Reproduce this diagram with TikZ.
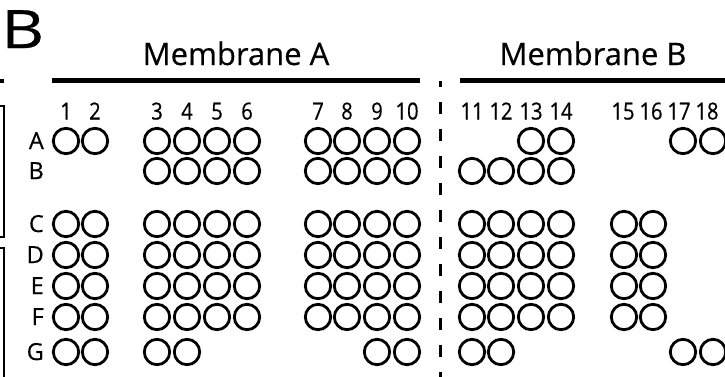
\documentclass[tikz,border=0pt]{standalone}
\usepackage{fontspec}
\setmainfont[FakeBold=0.5]{Open Sans}
\begin{document}
\begin{tikzpicture}[x=1pt,y=-1pt,
  ring/.style={circle, draw, line width=2.8pt, minimum size=25.4pt, inner sep=0pt},
  rowlab/.style={anchor=base east, inner sep=0pt, font=\fontsize{23.5}{28}\selectfont},
  collab/.style={anchor=base, inner sep=0pt, xscale=0.86, font=\fontsize{23.5}{28}\selectfont},
  title/.style={anchor=base, inner sep=0pt, font=\fontsize{31}{36}\selectfont},
  memline/.style={line width=4.5pt},
  bracket/.style={line width=2.2pt},
  divider/.style={line width=3pt, dash pattern=on 12pt off 15pt, dash phase=6pt}]
\useasboundingbox (0,0) rectangle (725,376);
\foreach \c/\x in {1/66,2/95,3/157,4/187,5/217,6/247,7/318,8/347,9/377,10/407,11/472,12/501,13/531,14/561,15/624,16/653,17/683,18/713}
  {\expandafter\xdef\csname cx\c\endcsname{\x}}
% panel letter and titles
\node[anchor=base west, inner sep=0pt, xscale=1.25, font=\fontsize{53}{60}\selectfont] (panel) at (1,48) {B};
\node[title] (memA) at (236,65) {Membrane A};
\node[title] (memB) at (593,65) {Membrane B};
% membrane lines
\coordinate (lA1) at (52,80.5); \coordinate (lA2) at (420,80.5);
\coordinate (lB1) at (460,80.5); \coordinate (lB2) at (725,80.5);
\coordinate (l01) at (0,81); \coordinate (l02) at (4,81);
\draw[memline] (lA1) -- (lA2);
\draw[memline] (lB1) -- (lB2);
\draw[memline] (l01) -- (l02);
% brackets
\draw[bracket] (0,106) -- (4,106) -- (4,237) -- (0,237);
\draw[bracket] (0,248) -- (4,248) -- (4,380);
% divider
\coordinate (d1) at (440,81); \coordinate (d2) at (440,380);
\draw[divider] (d1) -- (d2);
% column numbers
\foreach \c in {1,...,14}
  \node[collab] (n\c) at (\csname cx\c\endcsname,119.5) {\c};
\foreach \c/\x in {15/623,16/651,17/679,18/707}
  \node[collab] (n\c) at (\x,119.5) {\c};
% row labels
\foreach \r/\y in {A/141,B/171,C/224,D/255,E/286,F/317,G/352}
  \node[rowlab] (lab\r) at (44,\y+8) {\r};
% circles
\foreach \c in {1,...,10,13,14,17,18}
  \node[ring] (A\c) at (\csname cx\c\endcsname,141) {};
\foreach \c in {3,...,14}
  \node[ring] (B\c) at (\csname cx\c\endcsname,171) {};
\foreach \r/\y in {C/224,D/255,E/286,F/317}
  \foreach \c in {1,...,16}
    \node[ring] (\r\c) at (\csname cx\c\endcsname,\y) {};
\foreach \c in {1,2,3,4,9,10,11,12,17,18}
  \node[ring] (G\c) at (\csname cx\c\endcsname,352) {};
\end{tikzpicture}
\end{document}
